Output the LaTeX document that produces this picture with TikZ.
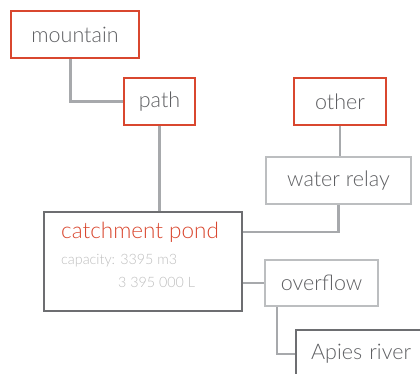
\documentclass[tikz,border=0pt]{standalone}
\usepackage{fontspec}
\setmainfont{Lato Light}
\definecolor{redb}{HTML}{D9472F}
\definecolor{txt}{HTML}{5E5F62}
\definecolor{lightb}{HTML}{BCBEC0}
\definecolor{conn}{HTML}{A7A9AC}
\definecolor{darkb}{HTML}{6D6E71}
\definecolor{captxt}{HTML}{BDBDBD}
\begin{document}
\begin{tikzpicture}[x=1pt,y=-1pt,
  box/.style={rectangle, line width=2.3pt, text=txt, inner sep=0pt,
    font=\fontsize{21.5}{24}\selectfont},
  redbox/.style={box, draw=redb},
  lightbox/.style={box, draw=lightb},
  darkbox/.style={box, draw=darkb},
  link/.style={draw=conn, line width=2.3pt}]
\useasboundingbox (0,0) rectangle (420,373);
\node[redbox, minimum width=128pt, minimum height=47pt] (mountain) at (75,34.5) {mountain};
\node[redbox, minimum width=71pt, minimum height=47pt] (path) at (159.5,101.5) {path};
\node[redbox, minimum width=92pt, minimum height=47pt] (other) at (340,101.5) {other};
\node[lightbox, minimum width=145pt, minimum height=47pt] (relay) at (338.5,180.5) {water relay};
\node[darkbox, line width=2.7pt, minimum width=198pt, minimum height=99pt] (catch) at (143,261.5) {};
\node[anchor=west, inner sep=0pt, text=redb, font=\fontsize{22.5}{25}\selectfont] (title) at (61,232) {catchment pond};
\node[anchor=west, inner sep=0pt, text=captxt, font=\fontsize{14.3}{17}\selectfont] (cap1) at (61,261) {capacity: 3395 m3};
\node[anchor=west, inner sep=0pt, text=captxt, font=\fontsize{14.3}{17}\selectfont] (cap2) at (118,282) {3 395 000 L};
\node[lightbox, minimum width=113pt, minimum height=46pt] (overflow) at (321.5,283) {overflow};
\node[darkbox, anchor=north west, minimum width=135pt, minimum height=48pt, inner xsep=15pt, text width=105pt, align=left] (apies) at (295,329) {Apies river};
\draw[link] ([xshift=-4.5pt]mountain.south) |- (path.west);
\draw[link] (path.south) -- (path.south |- catch.north);
\draw[link] (other.south) -- (other.south |- relay.north);
\draw[link] (relay.south) |- (title -| catch.east);
\draw[link] (overflow.west) -- (overflow.west -| catch.east);
\draw[link] ([xshift=13pt]overflow.south west) |- (apies.west);
\end{tikzpicture}
\end{document}
